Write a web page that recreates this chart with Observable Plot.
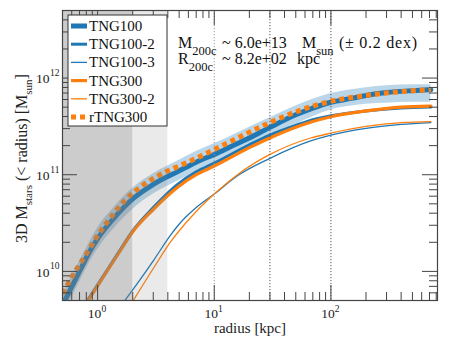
<!DOCTYPE html>
<html><head><meta charset="utf-8">
<script src="https://cdn.jsdelivr.net/npm/d3@7"></script>
<script src="https://cdn.jsdelivr.net/npm/@observablehq/plot@0.6"></script>
<style>body{margin:0;background:#fff} #chart{width:452px;height:350px} #chart svg text{font-family:"Liberation Serif","DejaVu Serif",serif}</style>
</head><body><div id="chart"></div>
<script>
const FONT = "Liberation Serif, DejaVu Serif, serif";

// ---- data (radius in kpc, log10 of enclosed stellar mass in Msun) ----
const tng100R    = [0.52, 0.6, 0.72, 0.85, 1, 1.4, 2, 3, 5, 7, 10, 15, 20, 30, 50, 70, 100, 150, 200, 300, 500, 720];
const tng100LogM = [9.69, 9.84, 10.03, 10.2, 10.34, 10.56, 10.75, 10.9, 11.04, 11.13, 11.21, 11.31, 11.38, 11.49, 11.62, 11.69, 11.75, 11.79, 11.82, 11.85, 11.87, 11.88];

const bandR      = [0.5, 0.6, 0.72, 0.85, 1, 1.4, 2, 3, 5, 7, 10, 15, 20, 30, 50, 70, 100, 150, 200, 300, 500, 720];
const bandHiLogM = [9.76, 9.95, 10.13, 10.3, 10.45, 10.67, 10.86, 11.01, 11.15, 11.24, 11.32, 11.42, 11.49, 11.59, 11.71, 11.78, 11.84, 11.88, 11.9, 11.92, 11.93, 11.93];
const bandLoLogM = [9.54, 9.73, 9.92, 10.09, 10.23, 10.45, 10.64, 10.8, 10.94, 11.03, 11.11, 11.21, 11.28, 11.39, 11.52, 11.6, 11.67, 11.71, 11.73, 11.74, 11.75, 11.75];

const tng100_2R    = [0.81, 1, 1.5, 2, 3, 4.85, 7, 10, 20, 30, 50, 70, 100, 200, 400, 720];
const tng100_2LogM = [9.69, 9.86, 10.19, 10.42, 10.66, 10.9, 11.03, 11.12, 11.31, 11.41, 11.51, 11.57, 11.61, 11.66, 11.69, 11.7];

const tng100_3R    = [1.69, 2, 3, 4.25, 4.85, 7, 10, 15.8, 30, 67, 100, 200, 400, 720];
const tng100_3LogM = [9.69, 9.81, 10.11, 10.38, 10.47, 10.66, 10.8, 10.99, 11.17, 11.35, 11.41, 11.48, 11.52, 11.54];

const tng300R    = [0.82, 1, 1.5, 2, 3, 4.85, 7, 10, 20, 30, 50, 70, 100, 200, 400, 720];
const tng300LogM = [9.69, 9.85, 10.18, 10.41, 10.64, 10.87, 11.0, 11.09, 11.28, 11.38, 11.49, 11.55, 11.6, 11.66, 11.7, 11.71];

const tng300_2R    = [2.0, 3, 4.25, 4.85, 7, 10, 15.8, 30, 67, 100, 200, 400, 720];
const tng300_2LogM = [9.69, 10.03, 10.31, 10.4, 10.62, 10.8, 11.0, 11.21, 11.38, 11.43, 11.5, 11.54, 11.55];

const rtng300R    = [0.5, 0.6, 0.8, 1.0, 1.3, 1.7, 2.5, 4, 5, 7, 10, 20, 30, 50, 70, 100, 200, 400, 720];
const rtng300LogM = [9.77, 9.94, 10.18, 10.37, 10.56, 10.73, 10.9, 11.04, 11.09, 11.17, 11.26, 11.44, 11.54, 11.65, 11.71, 11.76, 11.82, 11.86, 11.88];

const seriesNames = ["TNG100", "TNG100-2", "TNG100-3", "TNG300", "TNG300-2", "rTNG300"];

const xDomain = [0.5, 820];
const yDomain = [5e9, 5e12];
const xMajorTicks = [1, 10, 100];
const xTickExponents = ["0", "1", "2"];
const xMinorTicks = [0.6, 0.7, 0.8, 0.9, 2, 3, 4, 5, 6, 7, 8, 9, 20, 30, 40, 50, 60, 70, 80, 90, 200, 300, 400, 500, 600, 700, 800];
const yMajorTicks = [1e10, 1e11, 1e12];
const yTickExponents = ["10", "11", "12"];
const yMinorTicks = [6e9, 7e9, 8e9, 9e9, 2e10, 3e10, 4e10, 5e10, 6e10, 7e10, 8e10, 9e10, 2e11, 3e11, 4e11, 5e11, 6e11, 7e11, 8e11, 9e11, 2e12, 3e12, 4e12];
const refLinesFaint = [10];
const refLines = [30, 100];
const darkRegion = [{x1: 0.5, x2: 2}];
const lightRegion = [{x1: 2, x2: 4}];

// ---- build tables ----
const toPts = (r, lm) => r.map((d, i) => ({r: d, m: Math.pow(10, lm[i])}));
const band = bandR.map((d, i) => ({r: d, lo: Math.pow(10, bandLoLogM[i]), hi: Math.pow(10, bandHiLogM[i])}));

const BLUE = "#1f77b4", ORANGE = "#ff7f0e", AX = "#444";
const lineOpts = (stroke, w, extra = {}) => ({x: "r", y: "m", stroke, strokeWidth: w, curve: "monotone-x", clip: true, ...extra});

const FW = 452 - 62 - 15, FH = 350 - 10 - 50;

const plot = Plot.plot({
  width: 452, height: 350,
  marginLeft: 62, marginRight: 15, marginTop: 10, marginBottom: 50,
  x: {type: "log", domain: xDomain, axis: null},
  y: {type: "log", domain: yDomain, axis: null},
  style: {fontFamily: FONT, background: "white", color: "#222"},
  marks: [
    Plot.areaY(band, {x: "r", y1: "lo", y2: "hi", fill: BLUE, fillOpacity: 0.3, curve: "monotone-x", clip: true}),
    Plot.line(toPts(tng100R, tng100LogM), lineOpts(BLUE, 5)),
    Plot.line(toPts(tng100_2R, tng100_2LogM), lineOpts(BLUE, 3)),
    Plot.line(toPts(tng100_3R, tng100_3LogM), lineOpts(BLUE, 1.3)),
    Plot.line(toPts(tng300R, tng300LogM), lineOpts(ORANGE, 3.2)),
    Plot.line(toPts(tng300_2R, tng300_2LogM), lineOpts(ORANGE, 1.3)),
    Plot.line(toPts(rtng300R, rtng300LogM), lineOpts(ORANGE, 5, {strokeDasharray: "5,4", strokeLinecap: "butt"})),
    Plot.rect(darkRegion, {x1: "x1", x2: "x2", y1: yDomain[0], y2: yDomain[1], fill: "#808080", fillOpacity: 0.4}),
    Plot.rect(lightRegion, {x1: "x1", x2: "x2", y1: yDomain[0], y2: yDomain[1], fill: "#808080", fillOpacity: 0.17}),
    Plot.ruleX(refLinesFaint, {x: d => d, stroke: "#999", strokeWidth: 1, strokeDasharray: "1.2,1.8"}),
    Plot.ruleX(refLines, {x: d => d, stroke: "#555", strokeWidth: 1, strokeDasharray: "1.2,1.8"}),
    // ticks (inward, all sides)
    Plot.ruleX(xMajorTicks, {x: d => d, insetTop: FH - 15, stroke: AX}),
    Plot.ruleX(xMajorTicks, {x: d => d, insetBottom: FH - 15, stroke: AX}),
    Plot.ruleX(xMinorTicks, {x: d => d, insetTop: FH - 8, stroke: AX}),
    Plot.ruleX(xMinorTicks, {x: d => d, insetBottom: FH - 8, stroke: AX}),
    Plot.ruleY(yMajorTicks, {y: d => d, insetRight: FW - 15, stroke: AX}),
    Plot.ruleY(yMajorTicks, {y: d => d, insetLeft: FW - 15, stroke: AX}),
    Plot.ruleY(yMinorTicks, {y: d => d, insetRight: FW - 8, stroke: AX}),
    Plot.ruleY(yMinorTicks, {y: d => d, insetLeft: FW - 8, stroke: AX}),
    Plot.frame({stroke: AX, strokeWidth: 1.2}),
    // tick labels
    Plot.text(xMajorTicks, {x: d => d, frameAnchor: "bottom", text: () => "10", dx: -3, dy: 17, fontSize: 13.5}),
    Plot.text(xMajorTicks, {x: d => d, frameAnchor: "bottom", text: (d, i) => xTickExponents[i], textAnchor: "start", dx: 3.8, dy: 11.5, fontSize: 9.5}),
    Plot.text(yMajorTicks, {y: d => d, frameAnchor: "left", text: () => "10", textAnchor: "end", dx: -13, dy: 1, fontSize: 13.5}),
    Plot.text(yMajorTicks, {y: d => d, frameAnchor: "left", text: (d, i) => yTickExponents[i], textAnchor: "end", dx: -3, dy: -5, fontSize: 9.5}),
    Plot.text(["radius [kpc]"], {frameAnchor: "bottom", text: d => d, dy: 32, fontSize: 15})
  ]
});

document.getElementById("chart").appendChild(plot);
const svg = d3.select(plot);

// y-axis label
const yl = svg.append("text")
  .attr("transform", "translate(27,243) rotate(-90)")
  .attr("font-size", 16).attr("fill", "#222").attr("text-anchor", "start");
yl.append("tspan").text("3D M");
yl.append("tspan").attr("dy", 5).attr("font-size", 11).text("stars");
yl.append("tspan").attr("dy", -5).text(" (< radius) [M");
yl.append("tspan").attr("dy", 5).attr("font-size", 11).text("sun");
yl.append("tspan").attr("dy", -5).text("]");

// annotation
const SUB = 7, SUBFS = 12.5;
const ann = svg.append("g").attr("font-size", 16).attr("fill", "#111").attr("text-anchor", "start");
const l1 = ann.append("text").attr("x", 178).attr("y", 48);
l1.append("tspan").text("M");
l1.append("tspan").attr("dy", SUB).attr("font-size", SUBFS).text("200c");
l1.append("tspan").attr("dy", -SUB).attr("x", 222).text("~ 6.0e+13");
l1.append("tspan").attr("x", 302).text("M");
l1.append("tspan").attr("dy", SUB).attr("font-size", SUBFS).text("sun");
l1.append("tspan").attr("dy", -SUB).attr("x", 339).attr("textLength", 78).attr("lengthAdjust", "spacing").text("(± 0.2 dex)");
const l2 = ann.append("text").attr("x", 178).attr("y", 64);
l2.append("tspan").text("R");
l2.append("tspan").attr("dy", SUB).attr("font-size", SUBFS).text("200c");
l2.append("tspan").attr("dy", -SUB).attr("x", 222).text("~ 8.2e+02");
l2.append("tspan").attr("x", 297).text("kpc");

// legend
const leg = svg.append("g").attr("text-anchor", "start");
leg.append("rect").attr("x", 68).attr("y", 15).attr("width", 99).attr("height", 111)
  .attr("fill", "white").attr("stroke", "#333").attr("stroke-width", 1);
const legStyles = [
  {c: BLUE, w: 5}, {c: BLUE, w: 3}, {c: BLUE, w: 1.3},
  {c: ORANGE, w: 3.2}, {c: ORANGE, w: 1.3}, {c: ORANGE, w: 5, dash: "5,4"}
];
seriesNames.forEach((name, i) => {
  const y = 26 + i * 18.2;
  const ln = leg.append("line").attr("x1", 71).attr("x2", 87).attr("y1", y).attr("y2", y)
    .attr("stroke", legStyles[i].c).attr("stroke-width", legStyles[i].w);
  if (legStyles[i].dash) ln.attr("stroke-dasharray", legStyles[i].dash);
  leg.append("text").attr("x", 89).attr("y", y + 5)
    .attr("font-size", 15).attr("fill", "#111").text(name);
});
</script>
</body></html>
